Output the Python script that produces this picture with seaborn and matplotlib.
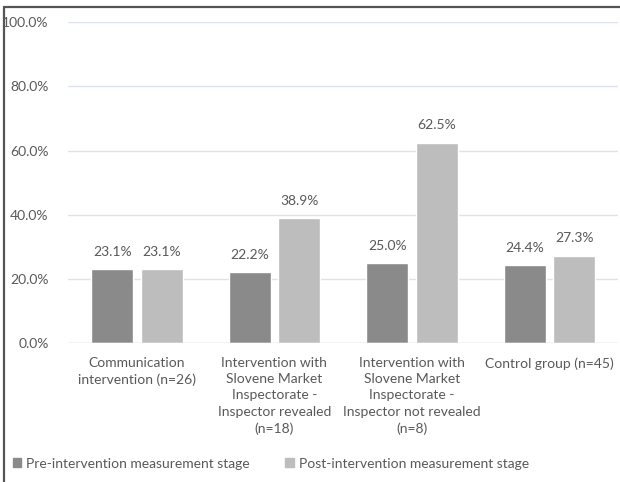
import matplotlib
matplotlib.use("Agg")
import matplotlib.pyplot as plt
import seaborn as sns
import pandas as pd
from matplotlib.lines import Line2D
from matplotlib.ticker import FuncFormatter

categories = [
    "Communication\nintervention (n=26)",
    "Intervention with\nSlovene Market\nInspectorate -\nInspector revealed\n(n=18)",
    "Intervention with\nSlovene Market\nInspectorate -\nInspector not revealed\n(n=8)",
    "Control group (n=45)",
]
series_names = ["Pre-intervention measurement stage", "Post-intervention measurement stage"]
pre_values = [23.1, 22.2, 25.0, 24.4]
post_values = [23.1, 38.9, 62.5, 27.3]
y_ticks = [0, 20, 40, 60, 80, 100]

df = pd.DataFrame({
    "category": categories * 2,
    "stage": [series_names[0]] * 4 + [series_names[1]] * 4,
    "value": pre_values + post_values,
})

sns.set_theme(style="white")
plt.rcParams["font.family"] = ["Lato", "DejaVu Sans"]
text_color = "#595959"
fs = 10

fig = plt.figure(figsize=(6.2, 4.82), dpi=100)
ax = fig.add_axes([0.11, 0.288, 0.887, 0.666])

palette = {series_names[0]: "#8a8a8a", series_names[1]: "#bdbdbd"}
sns.barplot(data=df, x="category", y="value", hue="stage", order=categories,
            hue_order=series_names, palette=palette, width=0.72, gap=0.15,
            saturation=1, ax=ax, legend=True, zorder=3)

ax.set_ylim(0, 100)
ax.set_yticks(y_ticks)
ax.yaxis.set_major_formatter(FuncFormatter(lambda v, p: f"{v:.1f}%"))
ax.grid(axis="y", color="#dde3ea", linewidth=1, zorder=0)
ax.set_axisbelow(True)
for s in ax.spines.values():
    s.set_visible(False)
ax.axhline(0, color="#d9dfe6", linewidth=1, zorder=4)
ax.set_xlabel("")
ax.set_ylabel("")
ax.tick_params(axis="both", length=0, colors=text_color, labelsize=fs)
ax.tick_params(axis="x", pad=10)
ax.tick_params(axis="y", pad=14)
for lbl in ax.get_xticklabels():
    lbl.set_linespacing(1.42)
    lbl.set_verticalalignment("top")

for cont in ax.containers:
    ax.bar_label(cont, labels=[f"{v:.1f}%" for v in cont.datavalues],
                 padding=8, color=text_color, fontsize=fs)

ax.legend_.remove()
handles = [plt.Rectangle((0, 0), 1, 1, color=palette[n]) for n in series_names]
fig.legend(handles, series_names, loc="center left", bbox_to_anchor=(0.0, 0.038),
           ncol=2, frameon=False, fontsize=fs, labelcolor=text_color,
           handlelength=0.6, handleheight=0.6, handletextpad=0.35, columnspacing=2.6)

fig.add_artist(Line2D([0.007, 0.007], [0, 0.986], transform=fig.transFigure,
                      color="#555555", linewidth=1.6))
fig.add_artist(Line2D([0.007, 1], [0.986, 0.986], transform=fig.transFigure,
                      color="#555555", linewidth=1.6))

fig.savefig("out.png", dpi=100)
